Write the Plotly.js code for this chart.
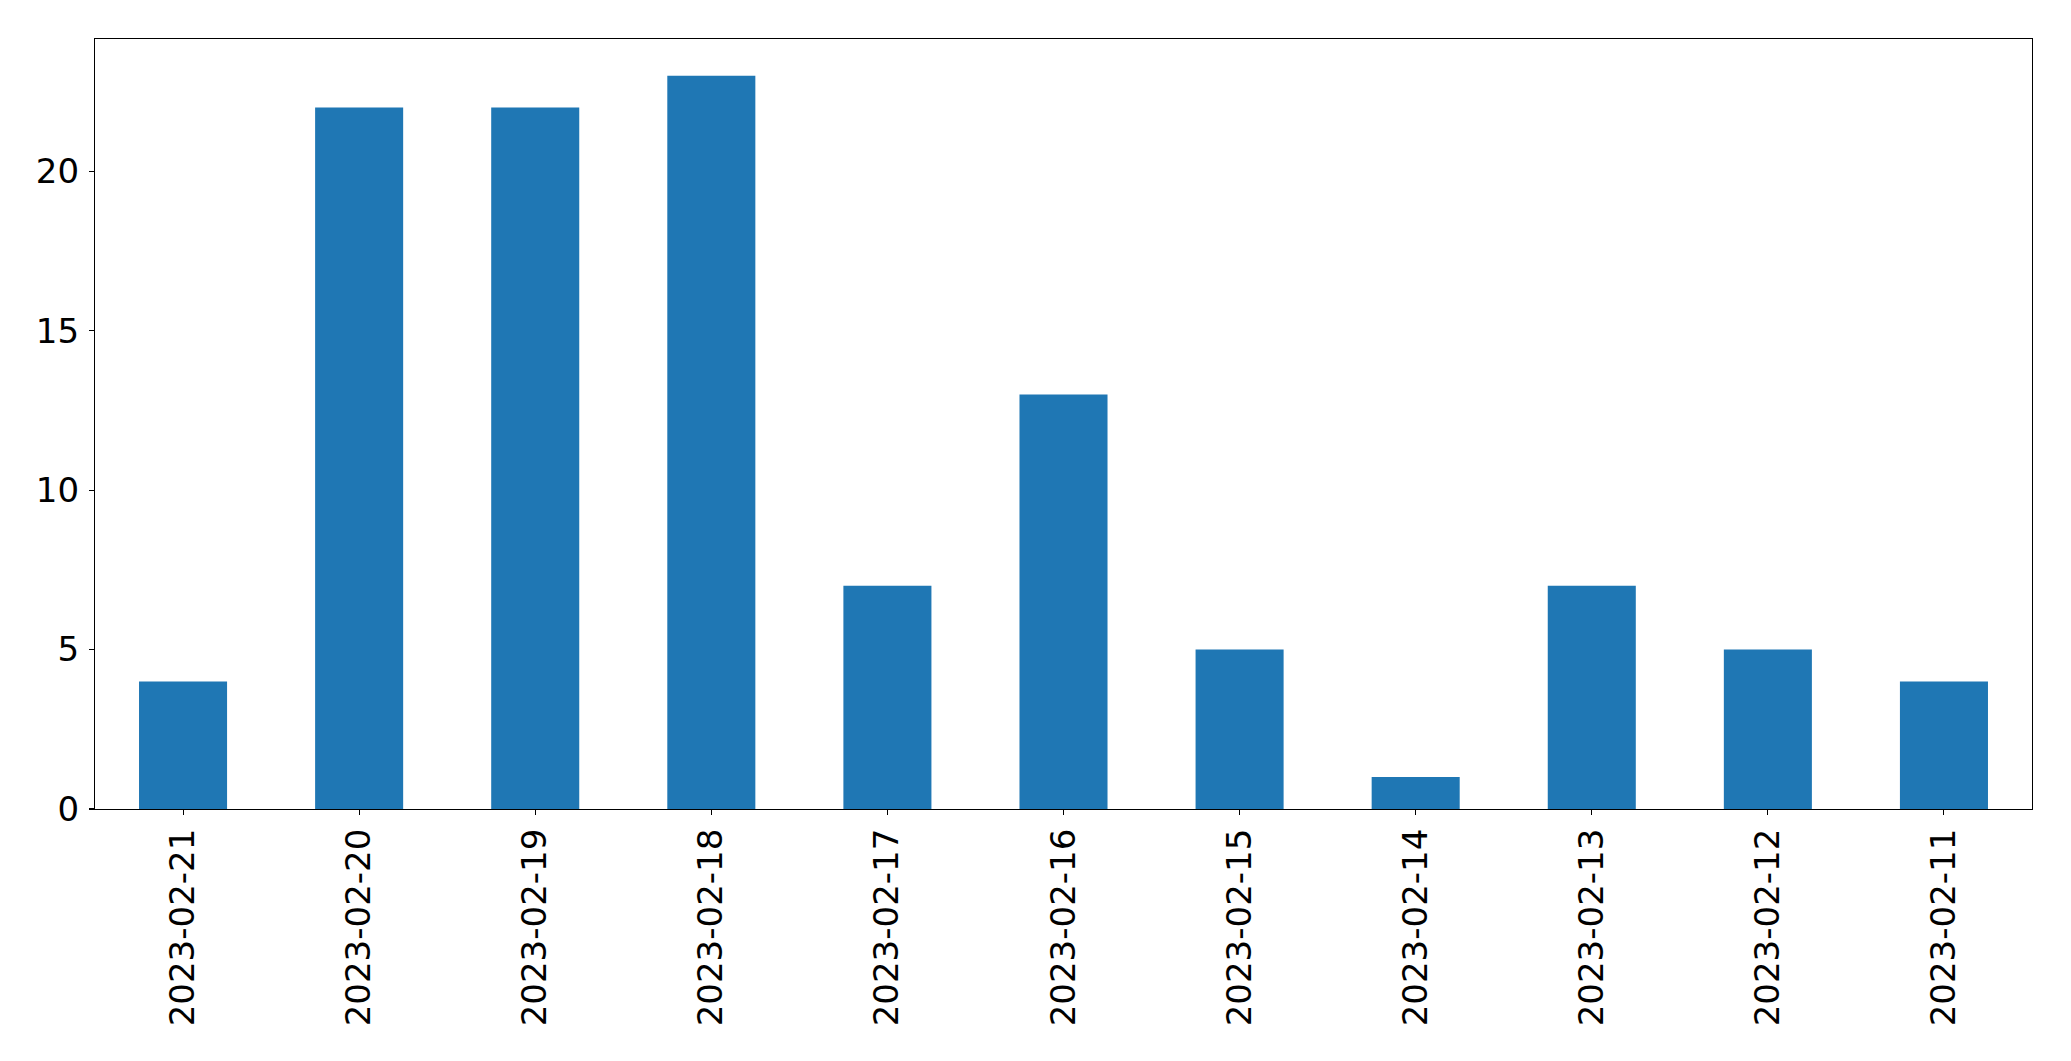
<!DOCTYPE html>
<html>
<head>
<meta charset="utf-8">
<script src="https://cdn.plot.ly/plotly-3.0.1.min.js"></script>
<style>html,body{margin:0;padding:0;background:#fff;}#chart{width:2071px;height:1061px;}</style>
</head>
<body>
<div id="chart"></div>
<script>
const dates = ["2023-02-21","2023-02-20","2023-02-19","2023-02-18","2023-02-17","2023-02-16","2023-02-15","2023-02-14","2023-02-13","2023-02-12","2023-02-11"];
const counts = [4, 22, 22, 23, 7, 13, 5, 1, 7, 5, 4];
const yTicks = [0, 5, 10, 15, 20];

const trace = {
  type: 'bar',
  x: dates,
  y: counts,
  width: 0.5,
  marker: {color: '#1f77b4', line: {width: 0}},
  hoverinfo: 'x+y'
};

const axisFont = {family: 'DejaVu Sans', size: 34, color: '#000'};

const layout = {
  width: 2071,
  height: 1061,
  margin: {l: 95, r: 39, t: 39, b: 252, pad: 0},
  paper_bgcolor: '#fff',
  plot_bgcolor: '#fff',
  showlegend: false,
  bargap: 0.5,
  xaxis: {
    type: 'category',
    range: [-0.5, 10.5],
    showline: true, linecolor: '#000', linewidth: 1.1, mirror: true,
    ticks: 'outside', ticklen: 5, tickwidth: 1.1, tickcolor: '#000',
    tickangle: -90,
    tickfont: axisFont,
    showgrid: false, zeroline: false,
    ticklabelstandoff: 0
  },
  yaxis: {
    range: [0, 24.15],
    tickvals: yTicks,
    ticktext: yTicks.map(String),
    showline: true, linecolor: '#000', linewidth: 1.1, mirror: true,
    ticks: 'outside', ticklen: 5, tickwidth: 1.1, tickcolor: '#000',
    tickfont: axisFont,
    showgrid: false, zeroline: false,
    ticklabelstandoff: 3
  }
};

Plotly.newPlot('chart', [trace], layout, {displayModeBar: false, staticPlot: true});
</script>
</body>
</html>
